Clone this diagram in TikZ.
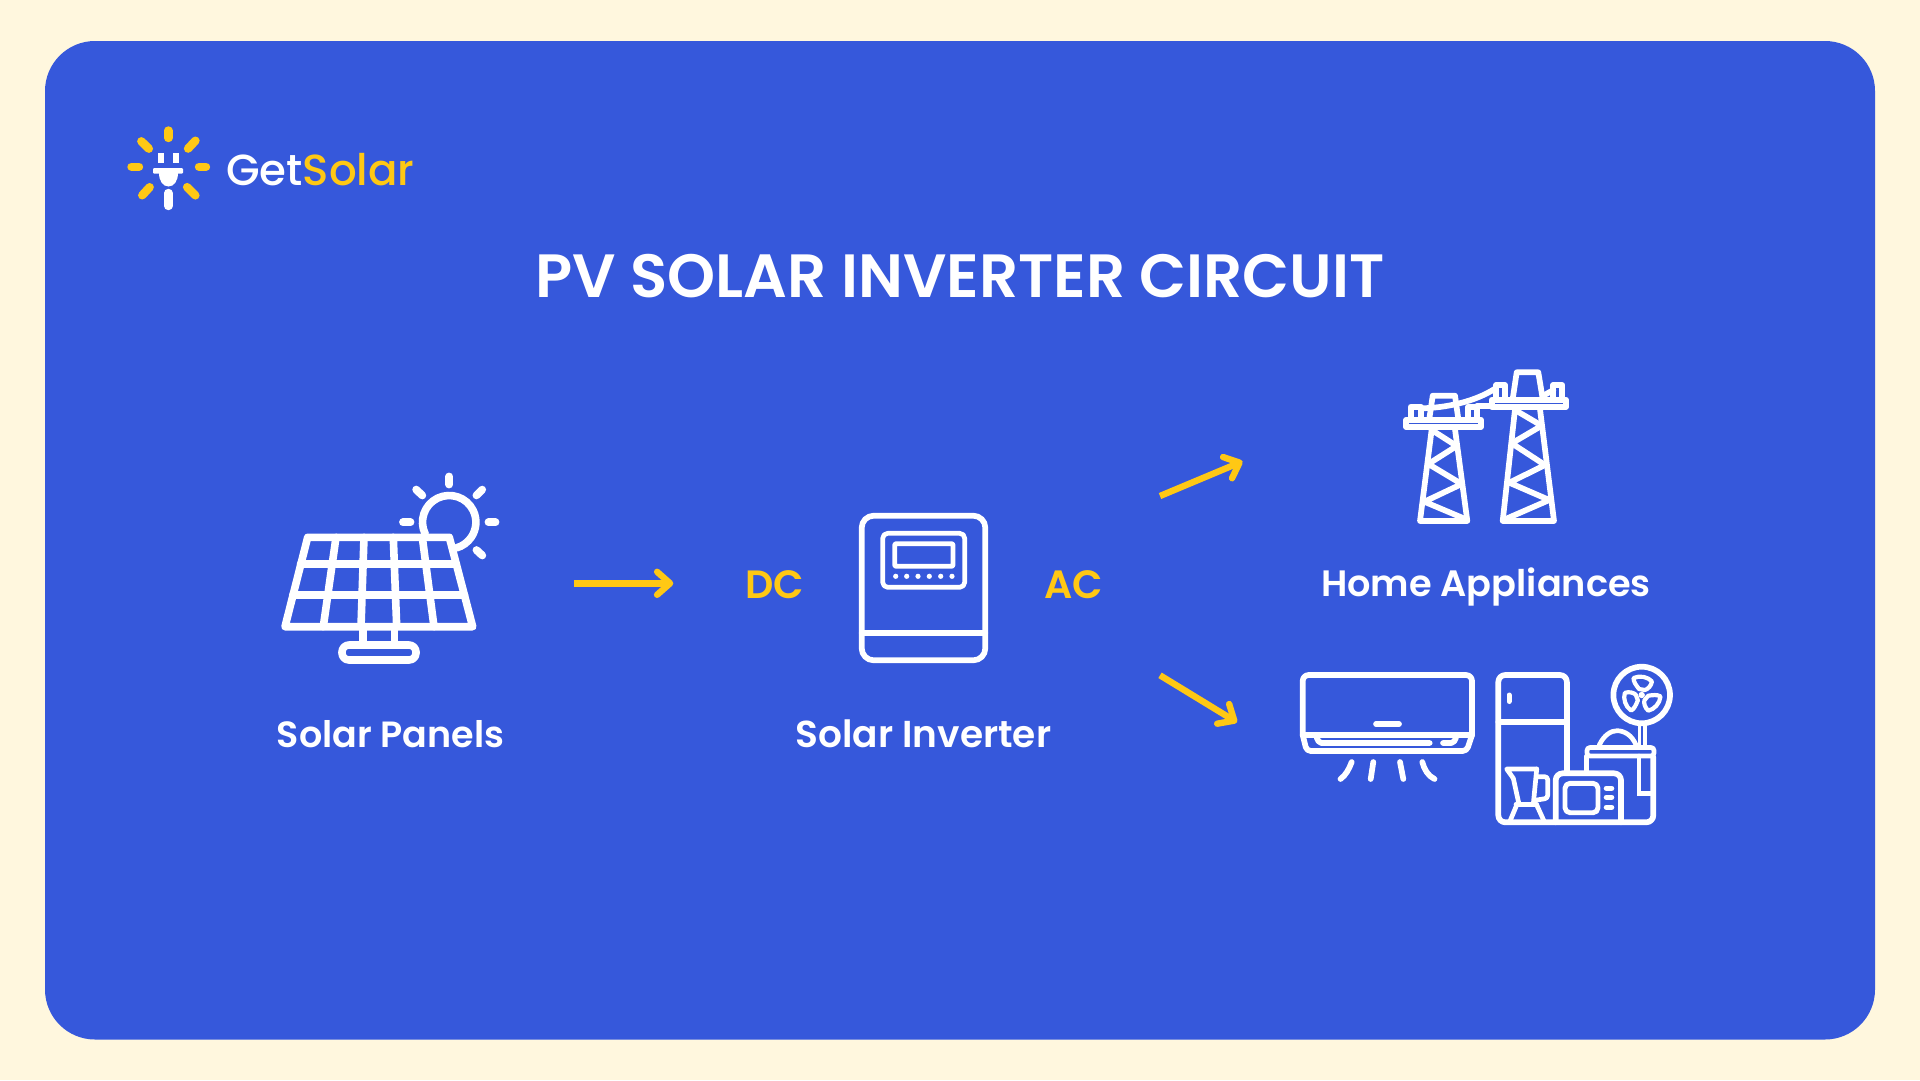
\documentclass[tikz,border=0pt]{standalone}
\usepackage{fontspec}
\usetikzlibrary{arrows.meta}
\setmainfont{Poppins}
\newfontfamily\lblfont{Poppins}[UprightFont=* SemiBold]
\newfontfamily\logofont{Poppins}[UprightFont=* Medium]
\definecolor{pagecream}{HTML}{FFF7DE}
\definecolor{panelblue}{HTML}{3658DB}
\definecolor{sunyellow}{HTML}{FFC814}
\tikzset{
  icon/.style={draw=white,line width=5.7pt,line join=round,line cap=round},
  iconthin/.style={draw=white,line width=4.2pt,line join=round,line cap=round},
  panelline/.style={icon,line width=7.6pt},
  sunray/.style={icon,line width=7.8pt,shorten <=3pt,shorten >=3pt},
  ray/.style={draw=#1,line width=8.4pt,line cap=round,shorten <=3pt,shorten >=3pt},
  flow/.style={draw=sunyellow,line width=6.4pt,-{Straight Barb[length=13pt,width=23pt,line cap=round,line join=round]}},
  txt/.style={anchor=base,inner sep=0pt,outer sep=0pt,text=white},
}
\begin{document}
\begin{tikzpicture}[x=1pt,y=-1pt]
\useasboundingbox (0,0) rectangle (1920,1080);
\fill[pagecream] (0,0) rectangle (1920,1080);
\fill[panelblue,rounded corners=50pt] (45,41) rectangle (1875,1039.5);

% logo rays
\foreach \a/\b/\c/\d in {168.3/127.5/168.3/141,128.5/166.7/142/166.7,196/166.7/209/166.7,139.2/139.2/151/150.8,197.5/138.5/186/150.8,151.7/185/140.2/197.5,185/185/197.5/197.5}
  \draw[ray=sunyellow] (\a,\b) -- (\c,\d);
\draw[ray=white] (168.3,190) -- (168.3,209);
\draw[white,line width=6pt] (160.7,153) -- (160.7,163) (175.5,153) -- (175.5,163);
\fill[white,rounded corners=1pt] (153,168) rectangle (183,173.5);
\fill[white] (159,173) -- (178,173) .. controls (178,181) and (174,186.5) .. (168.5,186.5) .. controls (163,186.5) and (159,181) .. (159,173) -- cycle;
\node[txt,font=\logofont\fontsize{43.5}{43.5}\selectfont] (logotext) at (320.5,185) {Get\textcolor{sunyellow}{Solar}};

% title
\node[txt,font=\lblfont\fontsize{61.1}{61.1}\selectfont] (title) at (960,297) {PV SOLAR INVERTER CIRCUIT};

% solar panel
\draw[panelline] (307.7,537.3) -- (449.3,537.3) -- (472.7,626.7) -- (285,626.7) -- cycle;
\draw[panelline] (300.5,564) -- (456.3,564) (292.7,595) -- (464.5,595);
\foreach \a/\b in {336/323.3,364/361,393.3/396.7,422.3/434}
  \draw[panelline] (\a,537.3) -- (\b,626.7);
\draw[panelline] (362.7,626.7) -- (362.7,645) (394.3,626.7) -- (394.3,645);
\draw[panelline,rounded corners=7pt] (342,660) -- (342,645) -- (416,645) -- (416,660) -- cycle;
\draw[panelline] (425.2,533.9) arc[start angle=154,end angle=434,radius=26.7];
\foreach \a/\b/\c/\d in {449.3/473.5/449.3/487.5,400/522.3/413.5/522.3,485.5/522.3/498.5/522.3,414/487.5/424.5/497.5,484.3/487.5/474.3/497.5,474.3/548/484.5/557.5}
  \draw[sunray] (\a,\b) -- (\c,\d);

% inverter
\draw[icon,rounded corners=12pt] (861.7,515.7) rectangle (985.3,660.3);
\draw[icon] (861.7,633.3) -- (985.3,633.3);
\draw[iconthin,line width=4.7pt,rounded corners=5pt] (882.7,533.3) rectangle (964.7,587.3);
\draw[iconthin,line width=4.7pt,rounded corners=1pt] (894.7,543.7) rectangle (953,566.3);
\foreach \a in {895.7,906.7,918,929.3,940.7,952}
  \fill[white] (\a,576.3) circle[radius=2.6pt];

% pylons
\draw[icon] (1406.3,419.7) rectangle (1481,427);
\draw[icon] (1429.3,419) -- (1432.7,395.7) -- (1455,395.7) -- (1458.3,419);
\draw[icon] (1410.7,419) -- (1410.7,406.7) -- (1420.7,406.7) -- (1420.7,419);
\draw[icon] (1468.3,419) -- (1468.3,406.7) -- (1477.3,406.7) -- (1477.3,419);
\draw[icon] (1420.7,408.3) .. controls (1445,408) and (1475,402) .. (1496,388);
\draw[icon] (1477,406) -- (1491,406);
\draw[icon] (1431.7,429.3) -- (1420,521) -- (1467.3,521) -- (1455,429.3);
\draw[icon] (1431.7,430) -- (1456.7,446) -- (1428.3,464) -- (1461.7,484) -- (1424.3,501.7) -- (1466,519.3);
\draw[icon] (1491.7,399.7) rectangle (1566,407);
\draw[icon] (1512.7,399) -- (1516.7,372.3) -- (1538.3,372.3) -- (1542.7,399);
\draw[icon] (1496,399) -- (1496,385) -- (1505,385) -- (1505,399);
\draw[icon] (1553.3,399) -- (1553.3,385) -- (1562.3,385) -- (1562.3,399);
\draw[icon] (1542.7,396) -- (1553.3,390);
\draw[icon] (1515,409.3) -- (1502.7,521) -- (1554,521) -- (1540,409.3);
\draw[icon] (1515,410) -- (1541.7,425.7) -- (1511.7,443.3) -- (1545,465) -- (1509.3,482.7) -- (1549.3,500) -- (1503.3,520);

% air conditioner
\draw[icon,rounded corners=6pt] (1302.7,735) -- (1302.7,675) -- (1472,675) -- (1472,735);
\draw[icon] (1302.7,735) -- (1472,735);
\draw[icon,rounded corners=4pt] (1302.7,735) -- (1306.7,751) -- (1466.7,751) -- (1472,735);
\draw[icon] (1376,724) -- (1399,724);
\draw[icon,rounded corners=2pt] (1316.7,737.7) -- (1319.3,743) -- (1429.7,743);
\draw[icon,rounded corners=2pt] (1443,743) -- (1453.3,743) -- (1456,737.7);
\draw[icon] (1351.7,762) .. controls (1349,769) and (1346,775) .. (1340.5,779);
\draw[icon] (1373.3,762) -- (1370.7,779);
\draw[icon] (1400,762) -- (1403.3,779);
\draw[icon] (1422.3,762) .. controls (1424,769) and (1428,776) .. (1434.5,779);

% appliances
\draw[icon,rounded corners=7pt] (1566.9,771) -- (1566.9,675) -- (1498.3,675) -- (1498.3,822.3) -- (1653.3,822.3) -- (1653.3,757);
\draw[icon] (1498.3,721.7) -- (1566.9,721.7);
\draw[icon,line width=5pt] (1509,695) -- (1509,701.5);
\draw[iconthin,line width=4.7pt,rounded corners=3pt] (1587,747.5) rectangle (1654,756);
\draw[iconthin,line width=4.7pt] (1586.7,756) -- (1586.7,771);
\draw[iconthin,line width=4.7pt,line join=miter] (1639,756) -- (1639,793.3) -- (1653,793.3);
\draw[iconthin,line width=4.7pt] (1599.3,745) .. controls (1604,735) and (1611,730.7) .. (1617,730.7) .. controls (1624,730.7) and (1632,735) .. (1636,745);
\draw[icon,rounded corners=7pt] (1555.7,822.3) -- (1555.7,773.3) -- (1621,773.3) -- (1621,822.3);
\draw[iconthin,line width=4.9pt,rounded corners=5pt] (1565,783.3) rectangle (1598,812.7);
\foreach \y in {788.3,797.3,807.3}
  \draw[iconthin,line width=5.6pt] (1606.5,\y) -- (1611.5,\y);
% blender
\draw[iconthin,line width=4.7pt] (1536.7,769) -- (1506.7,769) -- (1513.3,778.3) -- (1519,804.3);
\draw[iconthin,line width=4.7pt] (1536.7,769) -- (1533.3,804.3);
\draw[iconthin,line width=4.7pt] (1516,804.3) -- (1536.7,804.3);
\draw[iconthin,line width=4.7pt,rounded corners=3pt] (1538.3,776.7) -- (1547.7,776.7) -- (1547.7,798.3) -- (1536.7,800);
\draw[iconthin,line width=4.7pt] (1516.7,805) -- (1510,821) (1536.7,805) -- (1544,821);
% fan
\draw[icon] (1641.7,695) circle[radius=28.3pt];
\draw[iconthin,line width=3.6pt] (1639.3,725) -- (1639.3,745) (1645,725) -- (1645,745);
\fill[white] (1641.7,695) circle[radius=3.2pt];
\foreach \r in {0,120,240}
  \draw[iconthin,rotate around={\r:(1641.7,695)}] (1639,689) .. controls (1636,685) and (1633.5,682) .. (1633.5,678) .. controls (1640,675) and (1648,677) .. (1652,681.5) .. controls (1651,686) and (1648,689) .. (1645,690) -- cycle;

% labels
\node[txt,font=\lblfont\fontsize{36.5}{36.5}\selectfont] (panels) at (390.6,747) {Solar Panels};
\node[txt,font=\lblfont\fontsize{37.5}{37.5}\selectfont] (inverter) at (923.5,747) {Solar Inverter};
\node[txt,font=\lblfont\fontsize{36.7}{36.7}\selectfont] (home) at (1486,596) {Home Appliances};
\node[txt,text=sunyellow,font=\lblfont\fontsize{39.5}{39.5}\selectfont] (dc) at (774.7,598.7) {DC};
\node[txt,text=sunyellow,font=\lblfont\fontsize{39.5}{39.5}\selectfont] (ac) at (1073.3,598.7) {AC};

% connectors
\coordinate (a1s) at (574,583.3);
\coordinate (a1e) at (673.3,583.3);
\coordinate (a2s) at (1160,496);
\coordinate (a2e) at (1242.5,461.4);
\coordinate (a3s) at (1160,675.3);
\coordinate (a3e) at (1237,722.3);
\draw[flow] (a1s) -- (a1e);
\draw[flow] (a2s) -- (a2e);
\draw[flow] (a3s) -- (a3e);
\end{tikzpicture}
\end{document}
